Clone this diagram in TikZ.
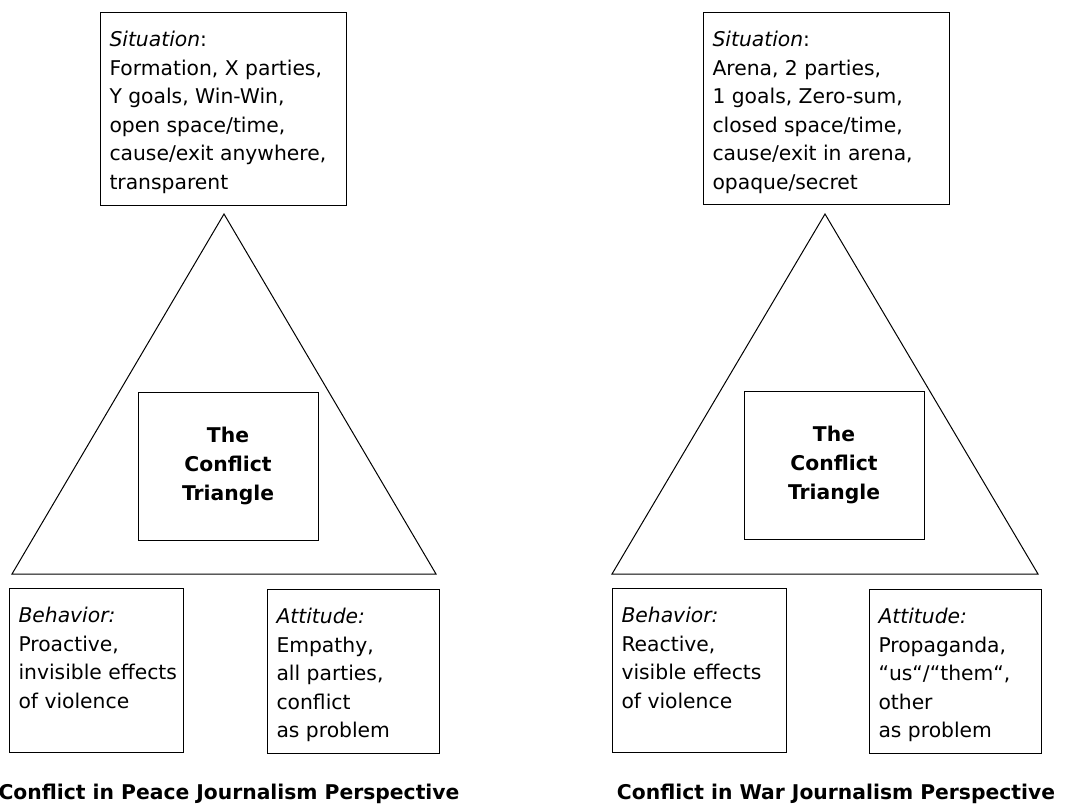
\documentclass[tikz,border=0pt]{standalone}
\usepackage{fontspec}
\setmainfont{DejaVu Sans}
\usetikzlibrary{positioning}
\newcommand{\cellbox}[3]{\parbox[t][#2][t]{#1}{\raggedright\strut#3}}

\begin{document}
\begin{tikzpicture}[x=1pt,y=-1pt,line width=1pt,
        infobox/.style={draw=black,anchor=north west,inner xsep=9pt,inner ysep=14pt,
          font=\fontsize{20.3}{28.6}\selectfont},
        corebox/.style={draw=black,minimum width=180pt,minimum height=148pt,inner sep=0pt,
          align=center,font=\fontsize{20.3}{28.6}\selectfont\bfseries},
        heading/.style={anchor=base,font=\fontsize{20.3}{28.6}\selectfont\bfseries}]
      \useasboundingbox (0,0) rectangle (1078,805);
      % peace journalism
      \coordinate (pTop) at (224,214);
      \coordinate (pLeft) at (12,574);
      \coordinate (pRight) at (436,574);
      \draw (pTop) -- (pLeft) -- (pRight) -- cycle;
      \node [infobox] (pSit) at (100,12) {\cellbox{228pt}{165pt}{\textit{Situation}:\\
        Formation, X parties,\\ Y goals, Win-Win,\\ open space/time,\\
        \mbox{cause/exit anywhere,}\\ transparent}};
      \node [corebox] (pCore) at (228,466) {The\\Conflict\\Triangle};
      \node [infobox] (pBeh) at (9,588) {\cellbox{156pt}{136pt}{\textit{Behavior:}\\
        Proactive,\\ \mbox{invisible effects}\\ of violence}};
      \node [infobox] (pAtt) at (267,589) {\cellbox{154pt}{136pt}{\textit{Attitude:}\\
        Empathy,\\ all parties,\\ conflict\\ as problem}};
      \node [heading] (pTitle) at (229,799) {Conflict in Peace Journalism Perspective};
      % war journalism
      \coordinate (wTop) at (825,214);
      \coordinate (wLeft) at (612,574);
      \coordinate (wRight) at (1038,574);
      \draw (wTop) -- (wLeft) -- (wRight) -- cycle;
      \node [infobox] (wSit) at (703,12) {\cellbox{228pt}{164pt}{\textit{Situation}:\\
        Arena, 2 parties,\\ 1 goals, Zero-sum,\\ closed space/time,\\
        cause/exit in arena,\\ opaque/secret}};
      \node [corebox] (wCore) at (834,465) {The\\Conflict\\Triangle};
      \node [infobox] (wBeh) at (612,588) {\cellbox{156pt}{136pt}{\textit{Behavior:}\\
        Reactive,\\ \mbox{visible effects}\\ of violence}};
      \node [infobox] (wAtt) at (869,589) {\cellbox{154pt}{136pt}{\textit{Attitude:}\\
        Propaganda,\\ “us“/“them“,\\ other\\ as problem}};
      \node [heading] (wTitle) at (836,799) {Conflict in War Journalism Perspective};
    \end{tikzpicture}
\end{document}
